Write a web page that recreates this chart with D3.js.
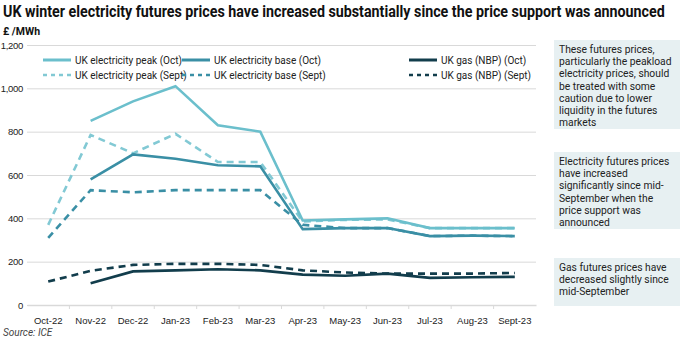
<!DOCTYPE html>
<html>
  <head>
    <meta charset="utf-8">
    <style>
      body { margin: 0; background: #fff; }
      svg { font-family: Roboto, "Noto Sans", sans-serif; }
      .grid line { stroke: #d9d9d9; }
      .tick text { fill: #222; font-size: 9.5px; }
    </style>
  </head>
  <body>
    <script src="https://d3js.org/d3.v7.min.js"></script>
    <script>
      const months = ["Oct-22","Nov-22","Dec-22","Jan-23","Feb-23","Mar-23","Apr-23","May-23","Jun-23","Jul-23","Aug-23","Sept-23"]
      const yTicks = [0,200,400,600,800,1000,1200]
      const peakOct = [null,850,940,1010,830,800,390,395,400,355,355,355]
      const peakSept = [370,785,700,790,660,660,385,393,395,355,355,355]
      const baseOct = [null,580,695,675,645,640,350,355,355,318,320,318]
      const baseSept = [310,530,520,530,530,530,370,355,355,318,320,318]
      const gasOct = [null,100,155,160,165,160,140,135,145,125,128,130]
      const gasSept = [108,158,185,190,190,185,160,150,145,145,145,148]
      const notes = [
        ["These futures prices,","particularly the peakload","electricity prices, should","be treated with some","caution due to lower","liquidity in the futures","markets"],
        ["Electricity futures prices","have increased","significantly since mid-","September when the","price support was","announced"],
        ["Gas futures prices have","decreased slightly since","mid-September"]
      ]

      const series = [
        {name:"UK electricity peak (Oct)", values:peakOct, color:"#6bbfcc", dash:null},
        {name:"UK electricity peak (Sept)", values:peakSept, color:"#82c9d4", dash:"7,5"},
        {name:"UK electricity base (Oct)", values:baseOct, color:"#3a8fa5", dash:null},
        {name:"UK electricity base (Sept)", values:baseSept, color:"#3a8fa5", dash:"7,5"},
        {name:"UK gas (NBP) (Oct)", values:gasOct, color:"#123d4c", dash:null},
        {name:"UK gas (NBP) (Sept)", values:gasSept, color:"#123d4c", dash:"7,5"}
      ]

      const w = 680, h = 340
      const plotLeft = 27, plotRight = 536, plotTop = 45, plotBottom = 305

      const svg = d3.select("body").append("svg")
        .attr("width", w).attr("height", h)

      // title: squeeze horizontally to mimic the condensed face
      const title = svg.append("text")
        .attr("x", 0).attr("y", 0)
        .attr("font-size", 17).attr("font-weight", "bold").attr("fill", "#111")
        .text("UK winter electricity futures prices have increased substantially since the price support was announced")
      const tw = title.node().getComputedTextLength()
      title.attr("transform", "translate(3,17) scale(" + (662 / tw) + ",1)")

      svg.append("text")
        .attr("x", 3).attr("y", 35)
        .attr("font-size", 10.5).attr("font-weight", "bold").attr("fill", "#111")
        .text("£ /MWh")

      const x = d3.scaleBand().domain(months).range([plotLeft, plotRight])
      const y = d3.scaleLinear().domain([0, 1200]).range([plotBottom, plotTop])

      // grid lines + y labels
      const yAxis = d3.axisLeft(y).tickValues(yTicks)
        .tickSize(-(plotRight - plotLeft)).tickFormat(d3.format(","))
      svg.append("g")
        .attr("class", "grid")
        .attr("transform", "translate(" + plotLeft + ",0)")
        .call(yAxis)
        .call(g => g.select(".domain").remove())
        .call(g => g.selectAll(".tick text").attr("x", -4).attr("letter-spacing", -0.3))

      // x axis with ticks at band edges
      const xAxis = d3.axisBottom(x).tickSize(0).tickPadding(12)
      const gx = svg.append("g")
        .attr("transform", "translate(0," + plotBottom + ")")
        .call(xAxis)
      gx.select(".domain").attr("stroke", "#d9d9d9").attr("stroke-width", 1.5)
      gx.selectAll(".edge")
        .data(months.slice(1))
        .enter().append("line")
          .attr("x1", d => x(d)).attr("x2", d => x(d))
          .attr("y1", 0).attr("y2", 4)
          .attr("stroke", "#d9d9d9")

      const line = d3.line()
        .defined(d => d != null)
        .x((d, i) => x(months[i]) + x.bandwidth() / 2)
        .y(d => y(d))

      // draw dashed first so solid lines sit on top
      const order = [3, 1, 5, 4, 2, 0]
      svg.append("g").selectAll("path")
        .data(order.map(i => series[i]))
        .enter().append("path")
          .attr("fill", "none")
          .attr("stroke", d => d.color)
          .attr("stroke-width", 2.6)
          .attr("stroke-dasharray", d => d.dash)
          .attr("d", d => line(d.values))

      // legend
      const legX = [43, 182, 409]
      const legY = [64, 79]
      series.forEach((s, i) => {
        const col = Math.floor(i / 2), row = i % 2
        const g = svg.append("g")
          .attr("transform", "translate(" + legX[col] + "," + legY[row] + ")")
        g.append("line")
          .attr("x1", 0).attr("x2", 28).attr("y1", -4).attr("y2", -4)
          .attr("stroke", s.color)
          .attr("stroke-width", s.dash ? 2.6 : 3)
          .attr("stroke-dasharray", s.dash ? "4,4" : null)
        g.append("text")
          .attr("x", 32).attr("y", 0)
          .attr("font-size", 10).attr("fill", "#222")
          .text(s.name)
      })

      // note boxes
      const boxY = [40, 152, 258]
      const boxH = [89, 77, 48]
      notes.forEach((lines, i) => {
        svg.append("rect")
          .attr("x", 554).attr("y", boxY[i])
          .attr("width", 126).attr("height", boxH[i])
          .attr("fill", "#e7f0f2")
        svg.append("text")
          .attr("x", 559).attr("y", boxY[i] + 13)
          .attr("font-size", 10.3).attr("fill", "#222")
          .selectAll("tspan")
          .data(lines)
          .enter().append("tspan")
            .attr("x", 559)
            .attr("dy", (d, j) => j ? 12.2 : 0)
            .text(d => d)
      })

      svg.append("text")
        .attr("x", 3).attr("y", 336)
        .attr("font-size", 10).attr("font-style", "italic").attr("fill", "#444")
        .text("Source: ICE")
    </script>
  </body>
</html>
